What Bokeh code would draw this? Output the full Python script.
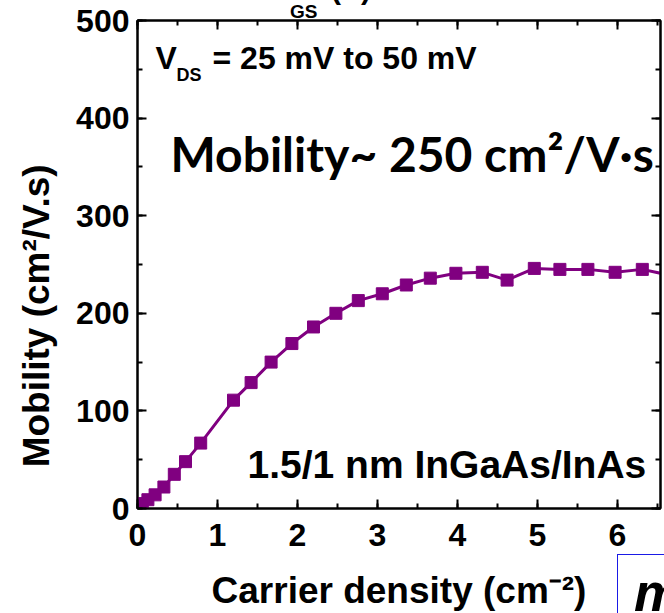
from bokeh.plotting import figure
from bokeh.layouts import column
from bokeh.models import (LinearAxis, SingleIntervalTicker, Label, Range1d,
                          CustomJSTickFormatter, Div)
from bokeh.embed import file_html
from bokeh.resources import INLINE

# ---- data ----
density = [0.03, 0.06, 0.13, 0.22, 0.33, 0.46, 0.60, 0.79, 1.20, 1.42, 1.67,
           1.93, 2.20, 2.48, 2.76, 3.06, 3.36, 3.66, 3.98, 4.31, 4.62, 4.96,
           5.28, 5.63, 5.97, 6.31, 6.65]
mobility = [2, 5, 9, 14, 22, 35, 48, 67, 111, 129, 150, 169, 186, 200, 213,
            220, 229, 236, 241, 242, 234, 246, 245, 245, 242, 245, 239]

x_label = "Carrier density (cm\u207b\u00b2)"
y_label = "Mobility (cm\u00b2/V.s)" + "\u00a0" * 10
note_vds = "= 25 mV to 50 mV"
note_mob = "Mobility~ 250 cm\u00b2/V\u00b7s"
note_mat = "1.5/1 nm InGaAs/InAs"

FONT = "'Liberation Sans Narrow', 'Liberation Sans', Arial"
PURPLE = "#800080"

p = figure(width=664, height=613, x_range=Range1d(0, 6.5375),
           y_range=Range1d(0, 500), output_backend="svg",
           toolbar_location=None, min_border_left=137, min_border_right=4,
           min_border_top=20, min_border_bottom=102,
           background_fill_color="white", border_fill_color="white")
p.xgrid.visible = False
p.ygrid.visible = False
p.outline_line_color = "black"
p.outline_line_width = 2


def style_axis(ax, show_labels):
    ax.major_tick_in = 9
    ax.major_tick_out = 0
    ax.minor_tick_in = 5
    ax.minor_tick_out = 0
    ax.axis_line_width = 2
    ax.major_tick_line_width = 2
    ax.minor_tick_line_width = 2
    ax.major_label_text_font = FONT
    ax.major_label_text_font_style = "bold"
    ax.major_label_text_font_size = "32px"
    ax.major_label_text_color = "black"
    ax.axis_label_text_font = FONT
    ax.axis_label_text_font_style = "bold"
    ax.axis_label_text_font_size = "37px"
    ax.axis_label_text_color = "black"
    if not show_labels:
        ax.formatter = CustomJSTickFormatter(code="return ''")
        ax.major_label_standoff = 0


xt = SingleIntervalTicker(interval=1, num_minor_ticks=2)
yt = SingleIntervalTicker(interval=100, num_minor_ticks=2)
p.xaxis.ticker = xt
p.yaxis.ticker = yt
style_axis(p.xaxis[0], True)
style_axis(p.yaxis[0], True)
p.xaxis.axis_label = x_label
p.yaxis.axis_label = y_label
p.xaxis.major_label_standoff = 15
p.yaxis.major_label_standoff = 8
p.xaxis.axis_label_standoff = 21
p.yaxis.axis_label_standoff = 16

top = LinearAxis(ticker=SingleIntervalTicker(interval=1, num_minor_ticks=2))
style_axis(top, False)
p.add_layout(top, "above")
right = LinearAxis(ticker=SingleIntervalTicker(interval=100, num_minor_ticks=2))
style_axis(right, False)
p.add_layout(right, "right")

p.line(density, mobility, line_color=PURPLE, line_width=3)
p.scatter(density, mobility, marker="square", size=12, fill_color=PURPLE,
          line_color=PURPLE)


def px_x(px):
    return (px - 137) / 80.0


def px_y(py):
    return (511 - py) / 0.982


def lab(text, px, py, size, font=FONT, style="bold", **kw):
    p.add_layout(Label(x=px_x(px), y=px_y(py), text=text, text_font=font,
                       text_font_style=style, text_font_size=size,
                       text_color="black", text_baseline="alphabetic", **kw))


# V_DS annotation
lab("V", 155, 58, "32px")
lab("DS", 176, 75, "18px")
lab(note_vds, 212, 58, "32px")

lab(note_mob, 170, 154, "48px", font="Lato")
lab(note_mat, 247, 467, "39px")

# texts outside the plotting frame (cut by the page edges)
TXT = "font-family:'Liberation Sans',Arial;font-weight:bold;line-height:1;" \
      "position:absolute;white-space:nowrap;color:black;"
top_div = Div(
    text=(f'<div style="{TXT}font-size:30px;left:258px;top:-34px;">V</div>'
          f'<div style="{TXT}font-size:19px;left:285px;top:-3px;">GS</div>'
          f'<div style="{TXT}font-size:30px;left:326px;top:-31px;">(V)</div>'),
    width=664, height=20,
    styles={"position": "absolute", "left": "0px", "top": "0px",
            "overflow": "visible", "pointer-events": "none"})

box_div = Div(
    text=(f'<div style="{TXT}font-size:54px;font-style:italic;'
          f'left:16px;top:10px;">mobility</div>'),
    width=52, height=64,
    styles={"position": "absolute", "left": "612px", "top": "549px",
            "overflow": "hidden", "box-sizing": "border-box",
            "border-top": "1.5px solid #1a1ae6",
            "border-left": "1.5px solid #1a1ae6",
            "background": "white"})

layout = column(p, top_div, box_div, spacing=0)
open("out.html", "w").write(file_html(layout, INLINE))
